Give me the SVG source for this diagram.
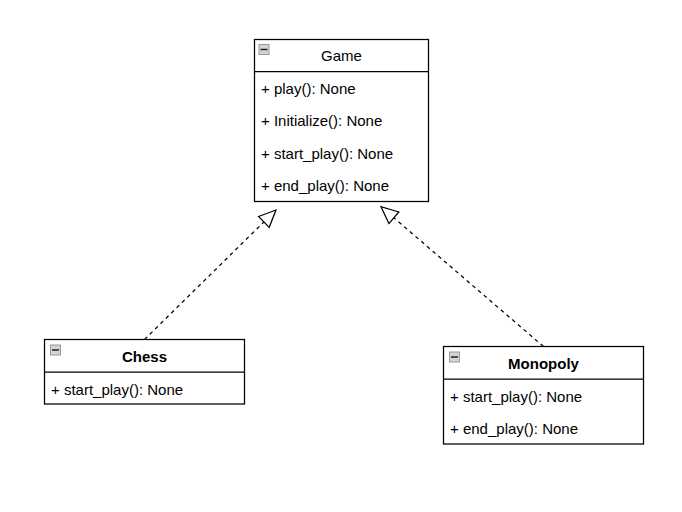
<svg xmlns="http://www.w3.org/2000/svg" width="682" height="512" viewBox="0 0 682 512">
<style>
.box{fill:#fff;stroke:#000;stroke-width:1.25}
.sep{stroke:#000;stroke-width:1.25}
.t{font-family:"Liberation Sans",Arial,sans-serif;font-size:15px;fill:#000}
.title{text-anchor:middle}
.b{font-weight:bold}
.edge{fill:none;stroke:#000;stroke-width:1.25;stroke-dasharray:3.75 3.75}
.icbox{fill:#d4d4d4;stroke:#9a9a9a;stroke-width:1}
.icline{stroke:#222;stroke-width:1.5}
</style>
<defs>
<marker id="tri" markerUnits="userSpaceOnUse" markerWidth="20" markerHeight="18" viewBox="-1 -9 20 18" refX="17" refY="0" orient="auto">
<path d="M0,-7.6 L17,0 L0,7.6 Z" fill="#fff" stroke="#000" stroke-width="1.25"/>
</marker>
<g id="icon">
<rect x="0.5" y="0.5" width="10" height="10" class="icbox"/>
<line x1="2" y1="5.5" x2="9" y2="5.5" class="icline"/>
</g>
</defs>
<rect width="682" height="512" fill="#fff"/>
<g id="connectors">
<path class="edge" d="M144.5,339.5 L276,210" marker-end="url(#tri)"/>
<path class="edge" d="M543.5,346.5 L381,206.7" marker-end="url(#tri)"/>
</g>
<g id="game">
<rect x="254.5" y="39.5" width="174" height="162" class="box"/>
<line x1="254.5" y1="71.5" x2="428.5" y2="71.5" class="sep"/>
<use href="#icon" x="258.5" y="44"/>
<text x="341.5" y="61.2" class="t title">Game</text>
<text x="261" y="93.7" class="t">+ play(): None</text>
<text x="261" y="126.2" class="t">+ Initialize(): None</text>
<text x="261" y="158.7" class="t">+ start_play(): None</text>
<text x="261" y="191.2" class="t">+ end_play(): None</text>
</g>
<g id="chess">
<rect x="44.5" y="339.5" width="200" height="64.5" class="box"/>
<line x1="44.5" y1="372" x2="244.5" y2="372" class="sep"/>
<use href="#icon" x="50" y="344.5"/>
<text x="144.5" y="362.2" class="t title b">Chess</text>
<text x="51" y="394.7" class="t">+ start_play(): None</text>
</g>
<g id="monopoly">
<rect x="443.5" y="346.5" width="200" height="97.5" class="box"/>
<line x1="443.5" y1="379" x2="643.5" y2="379" class="sep"/>
<use href="#icon" x="449" y="351.5"/>
<text x="543.5" y="369.4" class="t title b">Monopoly</text>
<text x="450" y="401.9" class="t">+ start_play(): None</text>
<text x="450" y="434.4" class="t">+ end_play(): None</text>
</g>
</svg>
